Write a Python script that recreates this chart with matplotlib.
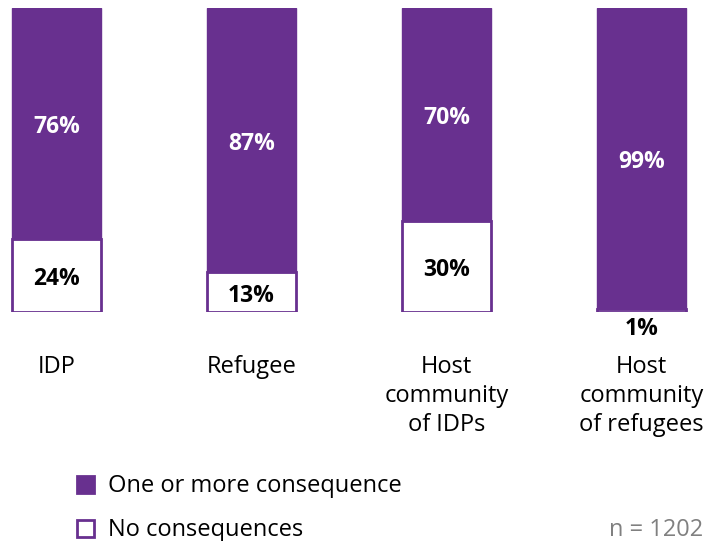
import matplotlib.pyplot as plt
from matplotlib.patches import Rectangle

plt.rcParams['font.family'] = ['Open Sans', 'DejaVu Sans']

categorias = ['IDP', 'Refugee', 'Host\ncommunity\nof IDPs', 'Host\ncommunity\nof refugees']
con_consecuencia = [76, 87, 70, 99]
sin_consecuencia = [24, 13, 30, 1]
leyenda = ['One or more consequence', 'No consequences']

morado = '#68308F'
W, H = 709, 541

fig = plt.figure(figsize=(W / 100, H / 100), dpi=100)
# ejes en pixeles: barras entre y=8 y y=312
ax = fig.add_axes([0, (H - 312) / H, 1, 304 / H])
paso = 195
centro0 = 56.5
ax.set_xlim(-centro0 / paso, (W - centro0) / paso)
ax.set_ylim(0, 100)
ax.axis('off')

x = range(len(categorias))
ancho = 89 / paso

# parte blanca (abajo) con borde morado
ax.bar(x, sin_consecuencia, width=ancho, color='white', edgecolor=morado, linewidth=2)
# parte morada arriba
ax.bar(x, con_consecuencia, width=ancho, bottom=sin_consecuencia, color=morado, edgecolor=morado, linewidth=1)

baja = 1.2  # pequeño ajuste vertical de las etiquetas
for i in x:
    v1 = con_consecuencia[i]
    v0 = sin_consecuencia[i]
    ax.text(i, v0 + v1 / 2 - baja, f'{v1}%', color='white', fontsize=16.5, fontweight='bold',
            ha='center', va='center')
    if v0 >= 5:
        ax.text(i, v0 / 2 - baja, f'{v0}%', color='black', fontsize=16.5, fontweight='bold',
                ha='center', va='center')
    else:
        ax.text(i, -1.8, f'{v0}%', color='black', fontsize=16.5, fontweight='bold',
                ha='center', va='top')

# etiquetas de categorias
for i, cat in enumerate(categorias):
    fig.text((centro0 + i * paso) / W, 1 - 355 / H, cat, fontsize=17, ha='center', va='top',
             linespacing=1.28)

# leyenda hecha a mano
for j, (txt, relleno) in enumerate(zip(leyenda, [morado, 'white'])):
    yc = 484 + j * 44
    fig.add_artist(Rectangle((77 / W, 1 - (yc + 9) / H), 17 / W, 17 / H, transform=fig.transFigure,
                             facecolor=relleno, edgecolor=morado, linewidth=2))
    fig.text(108 / W, 1 - (yc + 2) / H, txt, fontsize=17, ha='left', va='center')

fig.text(703 / W, 1 - 530 / H, 'n = 1202', color='#808080', fontsize=17, ha='right', va='center')

fig.savefig('out.png', dpi=100)
